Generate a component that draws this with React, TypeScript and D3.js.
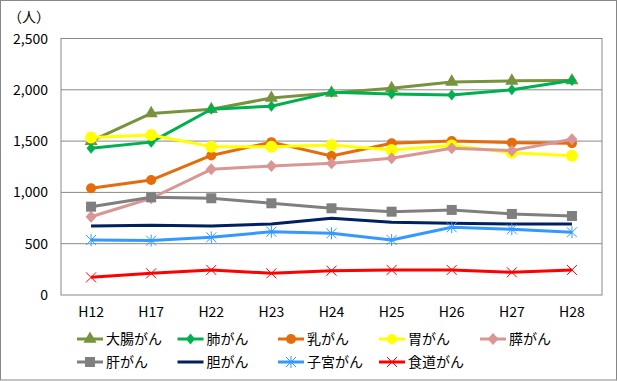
import React from "react";
import * as d3 from "d3";

const categories = ["H12", "H17", "H22", "H23", "H24", "H25", "H26", "H27", "H28"];
const seriesNames = ["大腸がん", "肺がん", "乳がん", "胃がん", "膵がん", "肝がん", "胆がん", "子宮がん", "食道がん"];
const colorectal = [1500, 1770, 1810, 1920, 1970, 2015, 2077, 2087, 2090];
const lung = [1430, 1490, 1810, 1840, 1975, 1960, 1950, 2000, 2090];
const breast = [1040, 1120, 1360, 1490, 1355, 1479, 1500, 1485, 1480];
const stomach = [1534, 1560, 1446, 1446, 1462, 1414, 1456, 1387, 1358];
const pancreas = [763, 943, 1225, 1258, 1284, 1333, 1430, 1407, 1518];
const liver = [861, 952, 943, 894, 845, 812, 829, 790, 770];
const gallbladder = [673, 680, 673, 692, 748, 709, 699, 692, 692];
const uterus = [536, 530, 562, 617, 601, 536, 660, 640, 611];
const esophagus = [172, 211, 244, 211, 237, 244, 244, 221, 244];
const yTicks = [0, 500, 1000, 1500, 2000, 2500];

const seriesValues = [colorectal, lung, breast, stomach, pancreas, liver, gallbladder, uterus, esophagus];
const colors = ["#77933C", "#00B050", "#E46C0A", "#FFFF00", "#D99694", "#7F7F7F", "#002060", "#3399FF", "#FF0000"];
const markers = ["triangle", "diamond", "circle", "bigcircle", "diamond2", "square", "none", "star", "x"];

const W = 618, H = 381;
const left = 61, right = 602, top = 38.5, bottom = 295;
const FONT = "'Noto Sans CJK JP', 'Noto Sans', sans-serif";

function Marker({ kind, x, y, color }: { kind: string; x: number; y: number; color: string }) {
  switch (kind) {
    case "triangle":
      return <path d={d3.symbol(d3.symbolTriangle, 75)()!} transform={`translate(${x},${y})`} fill={color} />;
    case "diamond":
      return <path d={`M${x},${y - 5.5}L${x + 4.5},${y}L${x},${y + 5.5}L${x - 4.5},${y}Z`} fill={color} />;
    case "diamond2":
      return <path d={`M${x},${y - 6}L${x + 5.5},${y}L${x},${y + 6}L${x - 5.5},${y}Z`} fill={color} />;
    case "circle":
      return <circle cx={x} cy={y} r={5} fill={color} />;
    case "bigcircle":
      return <circle cx={x} cy={y} r={6} fill={color} />;
    case "square":
      return <rect x={x - 5} y={y - 5} width={10} height={10} fill={color} />;
    case "star":
      return (
        <g stroke={color} strokeWidth={1}>
          <line x1={x - 5} y1={y - 5} x2={x + 5} y2={y + 5} />
          <line x1={x - 5} y1={y + 5} x2={x + 5} y2={y - 5} />
          <line x1={x} y1={y - 6} x2={x} y2={y + 6} />
        </g>
      );
    case "x":
      return (
        <g stroke={color} strokeWidth={1}>
          <line x1={x - 5} y1={y - 5} x2={x + 5} y2={y + 5} />
          <line x1={x - 5} y1={y + 5} x2={x + 5} y2={y - 5} />
        </g>
      );
    default:
      return null;
  }
}

export default function App() {
  const x = d3.scalePoint<string>().domain(categories).range([left, right]).padding(0.5);
  const y = d3.scaleLinear().domain([0, 2500]).range([bottom, top]);
  const line = d3.line<number>().x((_, i) => x(categories[i])!).y((v) => y(v));

  const legendCols = [77, 177.5, 278, 379, 480];
  const legendRows = [339, 362];

  return (
    <svg width={W} height={H} style={{ position: "fixed", left: 0, top: 0, background: "#fff" }} fontFamily={FONT}>
      <rect x={0.5} y={0.5} width={616} height={379.5} fill="#fff" stroke="#888" />
      {yTicks.map((t) => (
        <g key={t}>
          {t > 0 && <line x1={left} x2={right} y1={y(t)} y2={y(t)} stroke="#888" strokeWidth={1} />}
          <text x={48} y={y(t)} dy="0.36em" textAnchor="end" fontSize={14} fill="#000">
            {d3.format(",")(t)}
          </text>
        </g>
      ))}
      <rect x={left} y={top} width={right - left} height={bottom - top} fill="none" stroke="#888" />
      <text x={8} y={22} fontSize={14} fill="#000">（人）</text>
      {categories.map((c) => (
        <text key={c} x={x(c)!} y={312} dy="0.36em" textAnchor="middle" fontSize={14} fill="#000">
          {c}
        </text>
      ))}
      {seriesValues.map((vals, si) => (
        <g key={si}>
          <path d={line(vals)!} fill="none" stroke={colors[si]} strokeWidth={3} strokeLinejoin="round" />
          {vals.map((v, i) => (
            <Marker key={i} kind={markers[si]} x={x(categories[i])!} y={y(v)} color={colors[si]} />
          ))}
        </g>
      ))}
      {seriesNames.map((n, i) => {
        const lx = legendCols[i % 5];
        const ly = legendRows[Math.floor(i / 5)];
        return (
          <g key={n}>
            <line x1={lx} x2={lx + 26} y1={ly} y2={ly} stroke={colors[i]} strokeWidth={3} />
            <Marker kind={markers[i] === "bigcircle" ? "circle" : markers[i]} x={lx + 13} y={ly} color={colors[i]} />
            <text x={lx + 29} y={ly} dy="0.36em" fontSize={14} fill="#000">
              {n}
            </text>
          </g>
        );
      })}
    </svg>
  );
}
